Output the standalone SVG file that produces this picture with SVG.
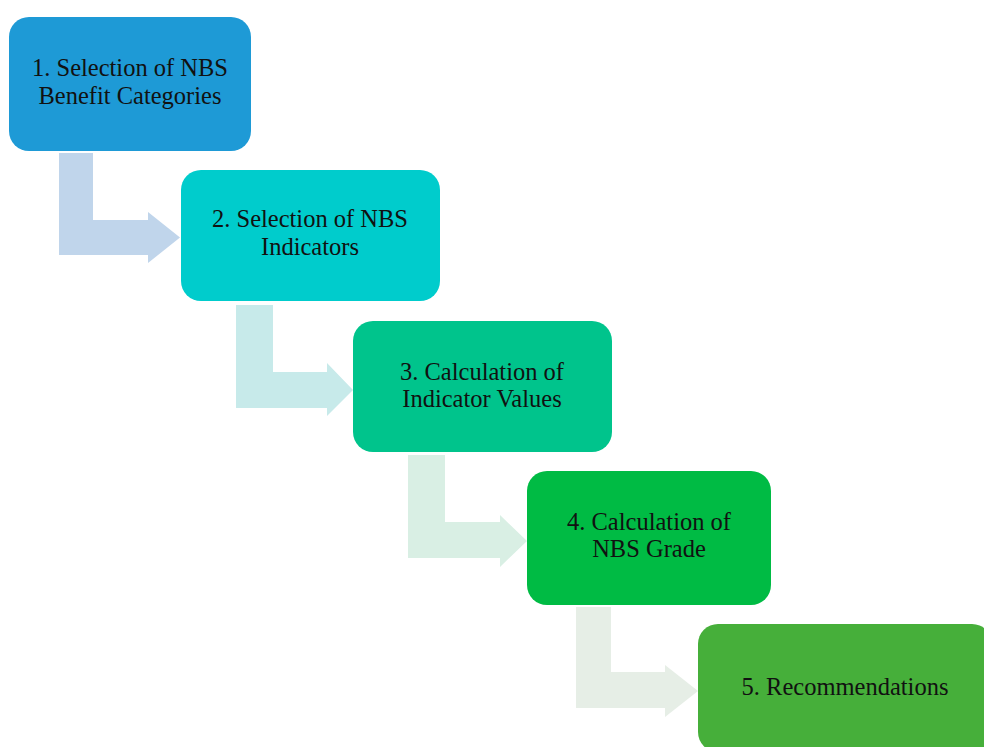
<svg xmlns="http://www.w3.org/2000/svg" width="984" height="747" viewBox="0 0 984 747">
<style>
.lbl{font-family:"Liberation Serif","Times New Roman",serif;font-size:24.5px;fill:#111;text-anchor:middle}
</style>
<rect width="984" height="747" fill="#fff"/>
<g id="connectors">
<path d="M59,153 H93 V220 H148 V212 L180,237.5 L148,263 V255 H59 Z" fill="#c0d5eb"/>
<path d="M236,305 H273 V372 H327 V363 L353,390 L327,416 V408 H236 Z" fill="#c7eaea"/>
<path d="M408,455 H445 V522 H500 V515 L527,541 L500,567 V558 H408 Z" fill="#d9efe4"/>
<path d="M576,607 H611 V672 H665 V665 L698,691 L665,717 V708 H576 Z" fill="#e6eee6"/>
</g>
<g id="node1">
<rect x="9" y="17" width="242" height="134" rx="20" fill="#1e9ad6"/>
<text class="lbl" x="130" y="76">1. Selection of NBS</text>
<text class="lbl" x="130" y="104">Benefit Categories</text>
</g>
<g id="node2">
<rect x="181" y="170" width="259" height="131" rx="20" fill="#00cccc"/>
<text class="lbl" x="310" y="227">2. Selection of NBS</text>
<text class="lbl" x="310" y="255">Indicators</text>
</g>
<g id="node3">
<rect x="353" y="321" width="259" height="131" rx="20" fill="#00c48c"/>
<text class="lbl" x="482" y="380">3. Calculation of</text>
<text class="lbl" x="482" y="407">Indicator Values</text>
</g>
<g id="node4">
<rect x="527" y="471" width="244" height="134" rx="20" fill="#00bb44"/>
<text class="lbl" x="649" y="530">4. Calculation of</text>
<text class="lbl" x="649" y="557">NBS Grade</text>
</g>
<g id="node5">
<rect x="698" y="624" width="294" height="128" rx="20" fill="#46af3a"/>
<text class="lbl" x="845" y="695">5. Recommendations</text>
</g>
</svg>
